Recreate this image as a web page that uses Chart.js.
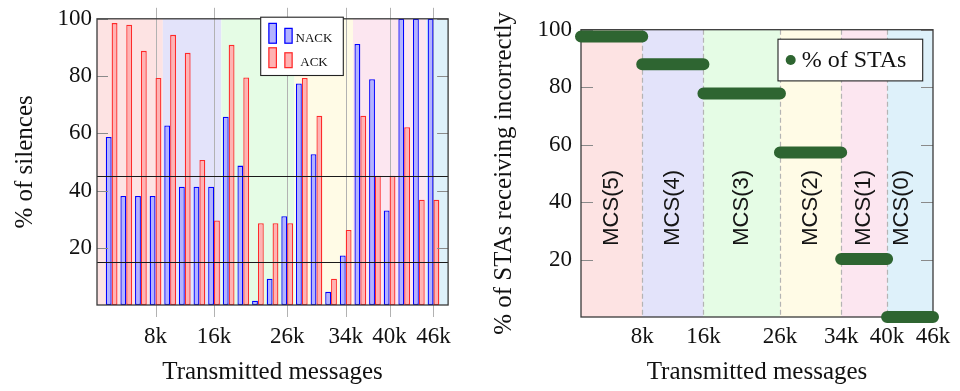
<!DOCTYPE html>
<html>
<head>
<meta charset="utf-8">
<script src="https://cdn.jsdelivr.net/npm/chart.js@4.4.1/dist/chart.umd.min.js"></script>
<style>
  html, body { margin: 0; padding: 0; background: #ffffff; }
  #wrap { position: relative; width: 960px; height: 391px; overflow: hidden; }
  #leftBox { position: absolute; left: 0; top: 0; width: 470px; height: 391px; }
  #rightBox { position: absolute; left: 470px; top: 0; width: 490px; height: 391px; }
</style>
</head>
<body>
<div id="wrap">
  <div id="leftBox"><canvas id="silences"></canvas></div>
  <div id="rightBox"><canvas id="stas"></canvas></div>
</div>
<script>
// ---- data ----------------------------------------------------------------
// transmitted messages (thousands) at which the silence ratio was sampled
const sampleK = [2, 4, 6, 8, 10, 12, 14, 16, 18, 20, 22, 24, 26, 28, 30, 32, 34, 36, 38, 40, 42, 44, 46];
// % of silences with negative acknowledgements
const nackPct = [58.7, 38.1, 38.1, 38.1, 62.7, 41.3, 41.3, 41.3, 65.8, 48.7, 1.5, 9.2, 31.0, 77.4, 52.7, 4.6, 17.3, 91.2, 78.9, 33.0, 100, 100, 100];
// % of silences with positive acknowledgements
const ackPct = [98.5, 97.9, 88.8, 79.3, 94.4, 88.1, 50.7, 29.5, 90.9, 79.5, 28.6, 28.6, 28.6, 79.3, 66.1, 9.2, 26.2, 66.1, 45.2, 45.2, 62.1, 36.8, 36.8];
// reference thresholds on the silence plot
const thresholdPct = [45, 15];

// x tick labels (thousands of messages) and y ticks (%)
const xTicksK = [8, 16, 26, 34, 40, 46];
const yTicksPct = [20, 40, 60, 80, 100];

// MCS regions
const silenceBandK = [0, 9, 17, 27, 35, 45, 48];
const mcsBoundK = [0, 8, 16, 26, 34, 40, 46];
const mcsNames = ['MCS(5)', 'MCS(4)', 'MCS(3)', 'MCS(2)', 'MCS(1)', 'MCS(0)'];
const mcsLabelK = [4, 12, 21, 30, 37, 42];
const mcsLabelPct = 38;
// % of STAs receiving incorrectly, one value per MCS region
const staPct = [97.6, 88.0, 77.8, 57.3, 20.2, 0];

// ---- styles --------------------------------------------------------------
const regionFill = ['#fde3e3', '#e3e3fa', '#e5fce5', '#fffbe6', '#fce6f0', '#def1fa'];
const SERIF = "'Liberation Serif', 'Times New Roman', serif";
const SANS = "'Liberation Sans', Arial, sans-serif";
const INK = '#111111';
const FRAME = '#3a3a3a';

Chart.defaults.font.family = SERIF;
Chart.defaults.color = INK;

function shadeRegions(chart, bounds) {
  const { ctx, chartArea: a, scales: { x } } = chart;
  ctx.save();
  for (let i = 0; i < bounds.length - 1; i++) {
    const x0 = Math.max(a.left, x.getPixelForValue(bounds[i]));
    const x1 = Math.min(a.right, x.getPixelForValue(bounds[i + 1]));
    ctx.fillStyle = regionFill[i];
    ctx.fillRect(x0, a.top, x1 - x0, a.height);
  }
  ctx.restore();
}

function yTickMarks(chart, len) {
  const { ctx, chartArea: a, scales: { y } } = chart;
  ctx.save();
  ctx.strokeStyle = '#8a8a8a';
  ctx.lineWidth = 1;
  y.ticks.forEach(t => {
    const py = Math.round(y.getPixelForValue(t.value)) + 0.5;
    ctx.beginPath();
    ctx.moveTo(a.left, py); ctx.lineTo(a.left + len, py);
    ctx.moveTo(a.right, py); ctx.lineTo(a.right - len, py);
    ctx.stroke();
  });
  ctx.restore();
}

function frame(chart) {
  const { ctx, chartArea: a } = chart;
  ctx.save();
  ctx.strokeStyle = FRAME;
  ctx.lineWidth = 1.3;
  ctx.strokeRect(a.left, a.top, a.width, a.height);
  ctx.restore();
}

// ---- left: % of silences --------------------------------------------------
const silencePlugin = {
  id: 'silenceDecor',
  beforeDatasetsDraw(chart) {
    const { ctx, chartArea: a, scales: { x } } = chart;
    shadeRegions(chart, silenceBandK);
    ctx.save();
    ctx.strokeStyle = '#b2b2b2';
    ctx.lineWidth = 1;
    xTicksK.forEach(k => {
      const px = Math.round(x.getPixelForValue(k)) + 0.5;
      ctx.beginPath();
      ctx.moveTo(px, a.top - 11);
      ctx.lineTo(px, a.bottom + 12);
      ctx.stroke();
    });
    ctx.restore();
  },
  afterDatasetsDraw(chart) {
    const { ctx, chartArea: a, scales: { y } } = chart;
    ctx.save();
    ctx.strokeStyle = '#1a1a1a';
    ctx.lineWidth = 1.2;
    thresholdPct.forEach(v => {
      const py = Math.round(y.getPixelForValue(v)) + 0.5;
      ctx.beginPath();
      ctx.moveTo(a.left, py);
      ctx.lineTo(a.right, py);
      ctx.stroke();
    });
    ctx.restore();
    yTickMarks(chart, 11);
    frame(chart);

    // legend box with double bar glyphs
    const bx = a.left + 163.7, by = a.top - 1.6, bw = 82.6, bh = 58.3;
    ctx.save();
    ctx.fillStyle = '#ffffff';
    ctx.fillRect(bx, by, bw, bh);
    ctx.strokeStyle = '#222222';
    ctx.lineWidth = 1.1;
    ctx.strokeRect(bx, by, bw, bh);
    chart.data.datasets.forEach((ds, i) => {
      const rowTop = by + 5.6 + i * 24.4;
      ctx.fillStyle = ds.backgroundColor;
      ctx.strokeStyle = ds.borderColor;
      ctx.lineWidth = 1.2;
      [[7.6, 0, 8.7, 21], [23.6, 5, 8.4, 16]].forEach(([dx, dy, w, h]) => {
        ctx.fillRect(bx + dx, rowTop + dy, w, h);
        ctx.strokeRect(bx + dx + 0.6, rowTop + dy + 0.6, w - 1.2, h - 1.2);
      });
      ctx.fillStyle = INK;
      ctx.font = '13px ' + SERIF;
      ctx.textAlign = 'center';
      ctx.textBaseline = 'alphabetic';
      ctx.fillText(ds.label, bx + 53.3, rowTop + 18.8);
    });
    ctx.restore();
  }
};

new Chart(document.getElementById('silences'), {
  type: 'bar',
  data: {
    datasets: [
      {
        label: 'NACK',
        data: sampleK.map((k, i) => ({ x: k, y: nackPct[i] })),
        backgroundColor: '#b3b3ff',
        borderColor: '#0000ff',
        borderWidth: 1.3,
        borderSkipped: false,
        categoryPercentage: 0.8,
        barPercentage: 1
      },
      {
        label: 'ACK',
        data: sampleK.map((k, i) => ({ x: k, y: ackPct[i] })),
        backgroundColor: '#ffb3b3',
        borderColor: '#ff2a2a',
        borderWidth: 1.3,
        borderSkipped: false,
        categoryPercentage: 0.8,
        barPercentage: 1
      }
    ]
  },
  options: {
    responsive: true,
    maintainAspectRatio: false,
    devicePixelRatio: 1,
    animation: false,
    layout: { padding: { top: 18.3, right: 21, bottom: 0, left: 0 } },
    plugins: { legend: { display: false }, tooltip: { enabled: false } },
    scales: {
      x: {
        type: 'linear',
        min: 0, max: 48,
        offset: false,
        grid: { display: false, drawTicks: false },
        border: { display: false },
        afterBuildTicks: s => { s.ticks = xTicksK.map(v => ({ value: v })); },
        afterFit: s => { s.height = 86; },
        ticks: { callback: v => v + 'k', font: { size: 23 }, padding: 18.4, maxRotation: 0, autoSkip: false },
        title: { display: true, text: 'Transmitted messages', font: { size: 25 }, padding: { top: 0, bottom: 4 } }
      },
      y: {
        min: 0, max: 100,
        grid: { display: false, drawTicks: false },
        border: { display: false },
        afterBuildTicks: s => { s.ticks = yTicksPct.map(v => ({ value: v })); },
        afterFit: s => { s.width = 97; },
        ticks: { font: { size: 23 }, padding: 5 },
        title: { display: true, text: '% of silences', font: { size: 25 }, padding: { top: 10, bottom: 0 } }
      }
    }
  },
  plugins: [silencePlugin]
});

// ---- right: % of STAs receiving incorrectly ------------------------------
const staPlugin = {
  id: 'staDecor',
  beforeDatasetsDraw(chart) {
    const { ctx, chartArea: a, scales: { x, y } } = chart;
    shadeRegions(chart, mcsBoundK);
    ctx.save();
    ctx.strokeStyle = '#b4b4b4';
    ctx.lineWidth = 1.2;
    ctx.setLineDash([5, 3]);
    mcsBoundK.slice(1, -1).forEach(k => {
      const px = Math.round(x.getPixelForValue(k)) + 0.5;
      ctx.beginPath();
      ctx.moveTo(px, a.top);
      ctx.lineTo(px, a.bottom);
      ctx.stroke();
    });
    ctx.restore();
    yTickMarks(chart, 12);
    frame(chart);

    ctx.save();
    ctx.fillStyle = '#151515';
    ctx.font = '22px ' + SANS;
    ctx.textAlign = 'center';
    ctx.textBaseline = 'middle';
    mcsNames.forEach((name, i) => {
      ctx.save();
      ctx.translate(x.getPixelForValue(mcsLabelK[i]), y.getPixelForValue(mcsLabelPct));
      ctx.rotate(-Math.PI / 2);
      ctx.fillText(name, 0, 0);
      ctx.restore();
    });
    ctx.restore();
  },
  afterDatasetsDraw(chart) {
    const { ctx, chartArea: a } = chart;
    const ds = chart.data.datasets[0];
    const bw = 144.7, bh = 41.7;
    const bx = a.right - 10.3 - bw, by = a.top + 9.5;
    ctx.save();
    ctx.fillStyle = '#ffffff';
    ctx.fillRect(bx, by, bw, bh);
    ctx.strokeStyle = '#222222';
    ctx.lineWidth = 1.1;
    ctx.strokeRect(bx, by, bw, bh);
    ctx.fillStyle = ds.borderColor;
    ctx.beginPath();
    ctx.arc(bx + 12.7, by + bh / 2, 5, 0, Math.PI * 2);
    ctx.fill();
    ctx.fillStyle = INK;
    ctx.font = '24px ' + SERIF;
    ctx.textAlign = 'left';
    ctx.textBaseline = 'middle';
    ctx.fillText(ds.label, bx + 23.7, by + bh / 2 + 1);
    ctx.restore();
  }
};

// one flat step per MCS region, broken between regions
const staSteps = [];
staPct.forEach((v, i) => {
  staSteps.push({ x: mcsBoundK[i], y: v }, { x: mcsBoundK[i + 1], y: v }, { x: mcsBoundK[i + 1], y: null });
});

new Chart(document.getElementById('stas'), {
  type: 'line',
  data: {
    datasets: [{
      label: '% of STAs',
      data: staSteps,
      borderColor: '#2e6531',
      backgroundColor: '#2e6531',
      borderWidth: 12,
      borderCapStyle: 'round',
      borderJoinStyle: 'round',
      pointRadius: 0,
      spanGaps: false,
      tension: 0,
      clip: false
    }]
  },
  options: {
    responsive: true,
    maintainAspectRatio: false,
    devicePixelRatio: 1,
    animation: false,
    layout: { padding: { top: 29.7, right: 27, bottom: 0, left: 0 } },
    plugins: { legend: { display: false }, tooltip: { enabled: false } },
    scales: {
      x: {
        type: 'linear',
        min: 0, max: 46,
        grid: { display: false, drawTicks: false },
        border: { display: false },
        afterBuildTicks: s => { s.ticks = xTicksK.map(v => ({ value: v })); },
        afterFit: s => { s.height = 74; },
        ticks: { callback: v => v + 'k', font: { size: 23 }, padding: 6.4, maxRotation: 0, autoSkip: false },
        title: { display: true, text: 'Transmitted messages', font: { size: 25 }, padding: { top: 0, bottom: 4 } }
      },
      y: {
        min: 0, max: 100,
        grid: { display: false, drawTicks: false },
        border: { display: false },
        afterBuildTicks: s => { s.ticks = yTicksPct.map(v => ({ value: v })); },
        afterFit: s => { s.width = 111; },
        ticks: { font: { size: 23 }, padding: 9 },
        title: { display: true, text: '% of STAs receiving incorrectly', font: { size: 25 }, padding: { top: 19, bottom: 0 } }
      }
    }
  },
  plugins: [staPlugin]
});
</script>
</body>
</html>
